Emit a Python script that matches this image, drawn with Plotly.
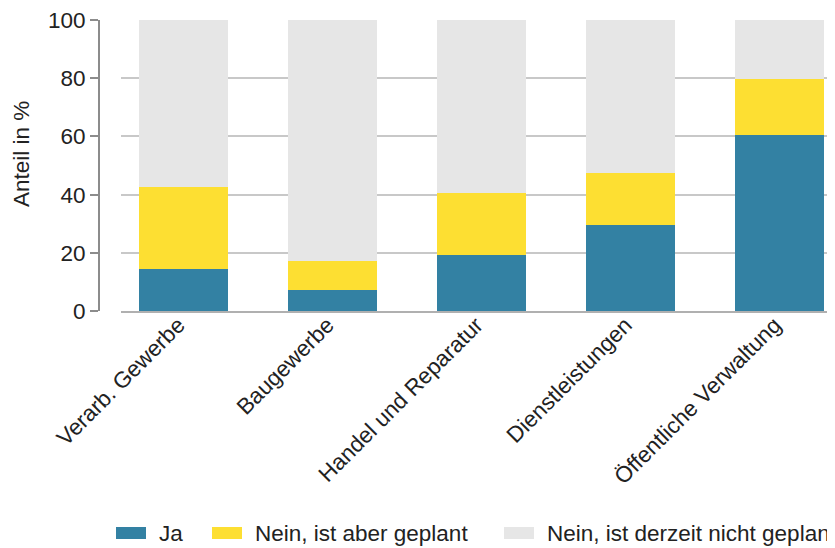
import plotly.graph_objects as go

# Anteil in % je Wirtschaftsbereich
branchen = ["Verarb. Gewerbe", "Baugewerbe", "Handel und Reparatur",
            "Dienstleistungen", "Öffentliche Verwaltung"]
ja = [14.6, 7.2, 19.2, 29.4, 60.5]
geplant = [28.2, 10.0, 21.5, 18.2, 19.4]
nicht_geplant = [57.2, 82.8, 59.3, 52.4, 20.1]

serien = ["Ja", "Nein, ist aber geplant", "Nein, ist derzeit nicht geplant"]
farben = ["#3381a3", "#fddf32", "#e6e6e6"]
werte = [ja, geplant, nicht_geplant]

FONT = "Arial, Liberation Sans, sans-serif"
FS = 22.5

fig = go.Figure()
for name, col, vals in zip(serien, farben, werte):
    fig.add_trace(go.Bar(x=branchen, y=vals, name=name, marker_color=col,
                         marker_line_width=0, width=0.6, showlegend=False))

# legend drawn by hand so the swatches are wide rectangles like the original
leg_x = [116, 212, 504]
for i, (name, col) in enumerate(zip(serien, farben)):
    fig.add_shape(type="rect", xref="paper", yref="paper",
                  x0=(leg_x[i] - 99) / 736, x1=(leg_x[i] + 30 - 99) / 736,
                  y0=(311 - 527) / 291, y1=(311 - 539) / 291,
                  fillcolor=col, line_width=0)
    fig.add_annotation(text=name, xref="paper", yref="paper",
                       x=(leg_x[i] + 41 - 99) / 736, y=(311 - 533) / 291,
                       xanchor="left", yanchor="middle", showarrow=False,
                       font=dict(family=FONT, size=FS, color="#222"))

fig.add_annotation(text="Anteil in %", xref="paper", yref="paper",
                   x=(21 - 99) / 736, y=(311 - 154) / 291, textangle=-90,
                   xanchor="center", yanchor="middle", showarrow=False,
                   font=dict(family=FONT, size=FS, color="#222"))

fig.update_layout(
    barmode="stack",
    width=835, height=548,
    margin=dict(l=91, r=8, t=12, b=245),
    paper_bgcolor="white", plot_bgcolor="white",
    font=dict(family=FONT, size=FS, color="#222"),
)
fig.update_xaxes(domain=[22 / 736, 1], range=[-0.418, 4.372],
                 tickangle=-45, showline=True, linecolor="#b0b0b0",
                 linewidth=2, ticks="", automargin=False,
                 ticklabelstandoff=-10, ticklabelshift=-5,
                 tickfont=dict(family=FONT, size=FS, color="#222"))
fig.update_yaxes(anchor="free", position=0, range=[0, 100.05],
                 tickvals=[0, 20, 40, 60, 80, 100],
                 showline=True, linecolor="#8c8c8c", linewidth=2,
                 ticks="outside", ticklen=8, tickwidth=2, tickcolor="#8c8c8c",
                 showgrid=True, gridcolor="#c8c8c8", gridwidth=1.5,
                 zeroline=False, automargin=False, ticklabeloverflow="allow",
                 tickfont=dict(family=FONT, size=FS, color="#222"))

fig.write_html("out.html")
